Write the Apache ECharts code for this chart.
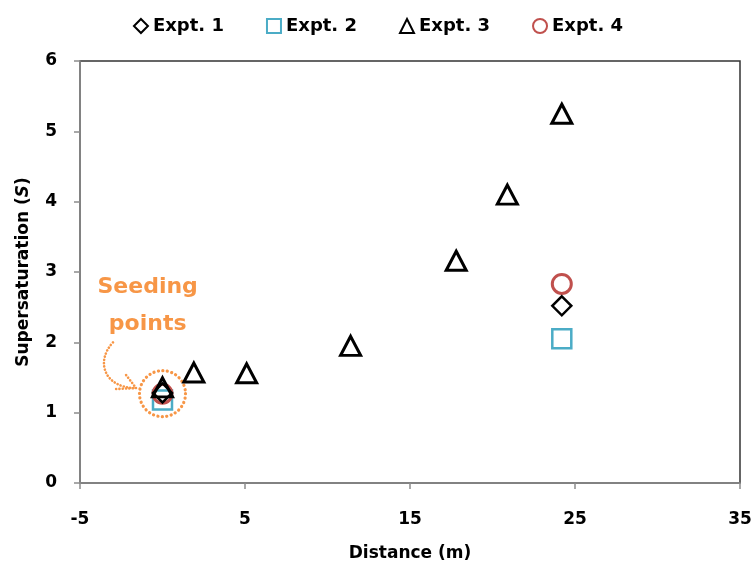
<!DOCTYPE html>
<html>
<head>
<meta charset="utf-8">
<script src="https://cdn.jsdelivr.net/npm/echarts@6/dist/echarts.min.js"></script>
<style>
  html, body { margin: 0; padding: 0; background: #fff; }
  #chart { width: 756px; height: 571px; }
</style>
</head>
<body>
<div id="chart"></div>
<script>
// Supersaturation measured along the channel for four experiments
const expt1 = [[0, 1.28], [24.2, 2.52]];
const expt2 = [[0, 1.18], [24.2, 2.05]];
const expt3 = [[0, 1.36], [1.9, 1.57], [5.1, 1.56], [11.4, 1.95], [17.8, 3.16], [20.9, 4.1], [24.2, 5.25]];
const expt4 = [[0, 1.27], [24.2, 2.83]];
const seedingPoint = [[0, 1.27]];

const seriesNames = ['Expt. 1', 'Expt. 2', 'Expt. 3', 'Expt. 4'];
const xTicks = { min: -5, max: 35, interval: 10 };
const yTicks = { min: 0, max: 6, interval: 1 };

const FONT = '"DejaVu Sans", sans-serif';
const ORANGE = '#F79646';

const chart = echarts.init(document.getElementById('chart'), null, { renderer: 'canvas' });

const hollow = 'rgba(255,255,255,0)';
const axisGray = '#8c8c8c';

chart.setOption({
  animation: false,
  backgroundColor: '#fff',
  legend: {
    top: 12,
    left: 'center',
    itemGap: 42,
    itemWidth: 14,
    itemHeight: 14,
    data: seriesNames,
    itemStyle: { borderWidth: 2 },
    textStyle: { fontFamily: FONT, fontWeight: 'bold', fontSize: 18, color: '#000' }
  },
  grid: {
    left: 80, right: 16, top: 61, bottom: 88,
    show: true,
    borderColor: '#333',
    borderWidth: 1.5
  },
  xAxis: {
    type: 'value',
    min: xTicks.min, max: xTicks.max, interval: xTicks.interval,
    name: 'Distance (m)',
    nameLocation: 'middle',
    nameGap: 62,
    nameTextStyle: { fontFamily: FONT, fontWeight: 'bold', fontSize: 17, color: '#000' },
    axisLine: { show: true, onZero: false, lineStyle: { color: axisGray, width: 1.5 } },
    axisTick: { show: true, length: 6, lineStyle: { color: axisGray, width: 1.5 } },
    axisLabel: { margin: 28, fontFamily: FONT, fontWeight: 'bold', fontSize: 17, color: '#000' },
    splitLine: { show: false }
  },
  yAxis: {
    type: 'value',
    min: yTicks.min, max: yTicks.max, interval: yTicks.interval,
    name: '{a|Supersaturation (}{b|S}{a|)}',
    nameLocation: 'middle',
    nameGap: 48,
    nameTextStyle: {
      rich: {
        a: { fontFamily: FONT, fontWeight: 'bold', fontSize: 17, color: '#000' },
        b: { fontFamily: FONT, fontWeight: 'bold', fontStyle: 'italic', fontSize: 17, color: '#000' }
      }
    },
    axisLine: { show: true, onZero: false, lineStyle: { color: axisGray, width: 1.5 } },
    axisTick: { show: true, length: 6, lineStyle: { color: axisGray, width: 1.5 } },
    axisLabel: { margin: 23, fontFamily: FONT, fontWeight: 'bold', fontSize: 17, color: '#000' },
    splitLine: { show: false }
  },
  series: [
    {
      name: 'Seeding',
      type: 'scatter',
      data: seedingPoint,
      symbol: 'circle',
      symbolSize: 46,
      silent: true,
      z: 1,
      itemStyle: { opacity: 1, color: hollow, borderColor: ORANGE, borderWidth: 3.2, borderType: [0.1, 4.4], borderCap: 'round' }
    },
    {
      name: 'Expt. 2',
      type: 'scatter',
      data: expt2,
      symbol: 'rect',
      symbolSize: 19,
      z: 2,
      itemStyle: { opacity: 1, color: hollow, borderColor: '#4BACC6', borderWidth: 2.5 }
    },
    {
      name: 'Expt. 4',
      type: 'scatter',
      data: expt4,
      symbol: 'circle',
      symbolSize: 19,
      z: 3,
      itemStyle: { opacity: 1, color: hollow, borderColor: '#C0504D', borderWidth: 3 }
    },
    {
      name: 'Expt. 1',
      type: 'scatter',
      data: expt1,
      symbol: 'diamond',
      symbolSize: [19, 19],
      z: 4,
      itemStyle: { opacity: 1, color: hollow, borderColor: '#000', borderWidth: 2.5 }
    },
    {
      name: 'Expt. 3',
      type: 'scatter',
      data: expt3,
      symbol: 'triangle',
      symbolSize: [20, 19],
      z: 5,
      itemStyle: { opacity: 1, color: hollow, borderColor: '#000', borderWidth: 3 }
    }
  ]
});

// Callout: "Seeding points" with a curved arrow toward the seeding marker
const calloutText = [-0.9, 2.52];
const arrowPath = [[-3.0, 2.0], [-4.1, 1.72], [-3.5, 1.35], [-1.6, 1.35]];

function drawCallout() {
  const px = p => chart.convertToPixel({ gridIndex: 0 }, p);
  const t = px(calloutText);
  const a = arrowPath.map(px);
  const end = a[3];
  const dash = { stroke: ORANGE, lineWidth: 2.6, fill: null, lineDash: [0.1, 3.2], lineCap: 'round' };
  chart.setOption({
    graphic: [
      {
        type: 'text',
        x: t[0], y: t[1],
        style: {
          text: 'Seeding\npoints',
          fill: ORANGE,
          font: 'bold 22px ' + FONT,
          align: 'center',
          verticalAlign: 'middle',
          lineHeight: 37
        }
      },
      {
        type: 'bezierCurve',
        shape: { x1: a[0][0], y1: a[0][1], cpx1: a[1][0], cpy1: a[1][1], cpx2: a[2][0], cpy2: a[2][1], x2: end[0], y2: end[1] },
        style: dash
      },
      {
        type: 'polyline',
        shape: { points: [[end[0] - 10, end[1] - 13], end, [end[0] - 21, end[1] + 1]] },
        style: dash
      }
    ]
  });
}
drawCallout();
</script>
</body>
</html>
